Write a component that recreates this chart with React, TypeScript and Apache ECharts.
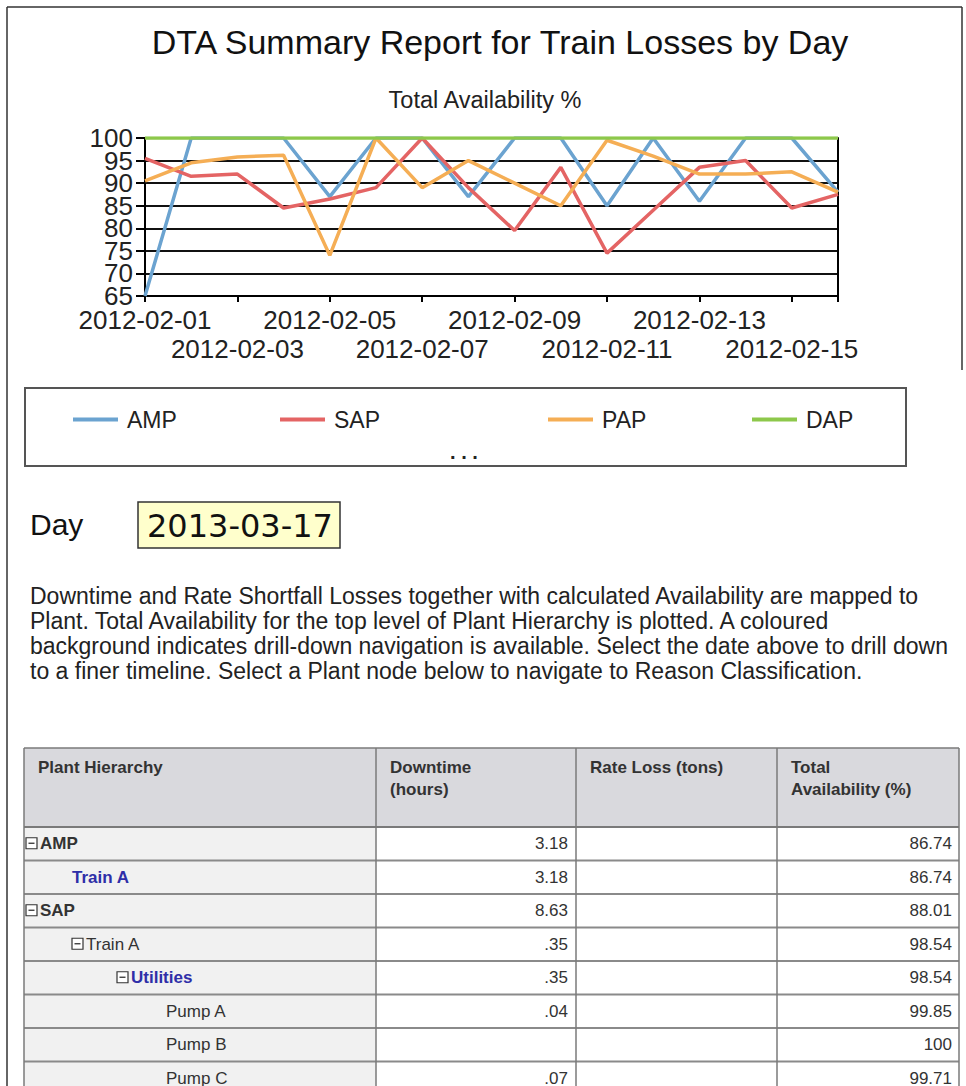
import React, { useEffect, useRef } from 'react';
import * as echarts from 'echarts';

const FONT = '"Liberation Sans", Arial, sans-serif';

// ---- chart data ----
const dates = [
  '2012-02-01', '2012-02-02', '2012-02-03', '2012-02-04', '2012-02-05', '2012-02-06',
  '2012-02-07', '2012-02-08', '2012-02-09', '2012-02-10', '2012-02-11', '2012-02-12',
  '2012-02-13', '2012-02-14', '2012-02-15', '2012-02-16',
];
const ampValues = [65, 100, 100, 100, 87, 100, 100, 87, 100, 100, 85, 100, 86, 100, 100, 88];
const sapValues = [95.5, 91.5, 92, 84.5, 86.5, 89, 100, 89, 79.5, 93.5, 74.5, 84, 93.5, 95, 84.5, 87.5];
const papValues = [90.5, 94.5, 95.8, 96.2, 74, 100, 89, 95, 90, 85, 99.5, 96, 92, 92, 92.5, 88];
const dapValues = [100, 100, 100, 100, 100, 100, 100, 100, 100, 100, 100, 100, 100, 100, 100, 100];
const seriesNames = ['AMP', 'SAP', 'PAP', 'DAP'];
const seriesColors = ['#6BA3D0', '#E46464', '#F5AE55', '#8DC84B'];
const yMin = 65;
const yMax = 100;
const yStep = 5;

// ---- texts ----
const titleText = 'DTA Summary Report for Train Losses by Day';
const subtitleText = 'Total Availability %';
const dayLabel = 'Day';
const dayValue = '2013-03-17';
const paragraphLines = [
  'Downtime and Rate Shortfall Losses together with calculated Availability are mapped to',
  'Plant. Total Availability for the top level of Plant Hierarchy is plotted. A coloured',
  'background indicates drill-down navigation is available. Select the date above to drill down',
  'to a finer timeline. Select a Plant node below to navigate to Reason Classification.',
];

// ---- table data ----
const tableHeaders = ['Plant Hierarchy', 'Downtime\n(hours)', 'Rate Loss (tons)', 'Total\nAvailability (%)'];
const rowNames = ['AMP', 'Train A', 'SAP', 'Train A', 'Utilities', 'Pump A', 'Pump B', 'Pump C'];
const rowLevels = [0, 1, 0, 1, 2, 3, 3, 3];
const rowExpanders = [true, false, true, true, true, false, false, false];
const rowKinds = ['bold', 'link', 'bold', 'plain', 'link', 'plain', 'plain', 'plain'];
const rowDowntime = ['3.18', '3.18', '8.63', '.35', '.35', '.04', '', '.07'];
const rowRateLoss = ['', '', '', '', '', '', '', ''];
const rowAvailability = ['86.74', '86.74', '88.01', '98.54', '98.54', '99.85', '100', '99.71'];

function txt(x: number, y: number, text: string, o: any = {}) {
  const align = o.align || 'left';
  const vAlign = o.vAlign || 'middle';
  return {
    type: 'text',
    x,
    y,
    silent: true,
    style: {
      text,
      fill: o.fill || '#222',
      fontSize: o.size || 17,
      fontFamily: o.family || FONT,
      fontWeight: o.weight || 'normal',
      lineHeight: o.lineHeight,
      textAlign: align,
      align,
      textVerticalAlign: vAlign,
      verticalAlign: vAlign,
    },
  };
}

function line(x1: number, y1: number, x2: number, y2: number, stroke: string, w: number) {
  return { type: 'line', silent: true, shape: { x1, y1, x2, y2 }, style: { stroke, lineWidth: w } };
}

function buildGraphics() {
  const g: any[] = [];
  // outer frame
  g.push(line(7, 7, 962, 7, '#333', 1.5));
  g.push(line(7, 7, 7, 1086, '#333', 1.5));
  g.push(line(962, 7, 962, 370, '#333', 1.5));

  g.push(txt(500, 42, titleText, { size: 34, fill: '#111', align: 'center' }));
  g.push(txt(485, 100, subtitleText, { size: 23.5, fill: '#222', align: 'center' }));

  // legend box
  g.push({ type: 'rect', silent: true, shape: { x: 25, y: 388, width: 881, height: 78 }, style: { fill: 'none', stroke: '#555', lineWidth: 2 } });
  g.push(txt(464, 452, '. . .', { size: 20, weight: 'bold', align: 'center', fill: '#222' }));

  // day selector
  g.push(txt(30, 524, dayLabel, { size: 30, fill: '#111' }));
  g.push({ type: 'rect', silent: true, shape: { x: 138, y: 502, width: 202, height: 46 }, style: { fill: '#FFFFCC', stroke: '#333', lineWidth: 1.5 } });
  g.push(txt(147, 526, dayValue, { size: 32, family: '"DejaVu Sans", Verdana, sans-serif', fill: '#111' }));

  // paragraph
  paragraphLines.forEach((l, i) => g.push(txt(30, 596 + i * 25, l, { size: 23, fill: '#222' })));

  // table
  const colX = [24, 376, 576, 777, 959];
  const headTop = 748;
  const headBottom = 827;
  const rowH = 33.5;
  const tableBottom = 1100;
  g.push({ type: 'rect', silent: true, shape: { x: colX[0], y: headTop, width: colX[4] - colX[0], height: headBottom - headTop }, style: { fill: '#D9D9DD' } });
  g.push({ type: 'rect', silent: true, shape: { x: colX[0], y: headBottom, width: colX[1] - colX[0], height: tableBottom - headBottom }, style: { fill: '#F1F1F1' } });
  g.push({ type: 'rect', silent: true, shape: { x: colX[1], y: headBottom, width: colX[4] - colX[1], height: tableBottom - headBottom }, style: { fill: '#FFFFFF' } });
  g.push(line(colX[0], headTop, colX[4], headTop, '#7a7a7a', 1.5));
  g.push(line(colX[0], headBottom, colX[4], headBottom, '#7a7a7a', 2));
  for (let i = 1; i <= rowNames.length; i++) {
    const y = headBottom + i * rowH;
    g.push(line(colX[0], y, colX[4], y, '#8a8a8a', 2));
  }
  colX.forEach((x) => g.push(line(x, headTop, x, tableBottom, '#7a7a7a', 1.5)));

  tableHeaders.forEach((h, i) => {
    g.push(txt(colX[i] + 14, 756, h, { size: 17, weight: 'bold', fill: '#333', vAlign: 'top', lineHeight: 22 }));
  });

  rowNames.forEach((name, i) => {
    const cy = headBottom + i * rowH + rowH / 2;
    const indent = [26, 72, 117, 166][rowLevels[i]];
    let tx = indent;
    if (rowExpanders[i]) {
      g.push({ type: 'rect', silent: true, shape: { x: indent, y: cy - 6, width: 11, height: 11 }, style: { fill: '#fff', stroke: '#333', lineWidth: 1.2 } });
      g.push(line(indent + 2.5, cy - 0.5, indent + 8.5, cy - 0.5, '#333', 1.3));
      tx = indent + 14;
    }
    const kind = rowKinds[i];
    g.push(txt(tx, cy, name, {
      size: 17,
      weight: kind === 'plain' ? 'normal' : 'bold',
      fill: kind === 'link' ? '#2E2EA8' : '#333',
    }));
    if (rowDowntime[i]) g.push(txt(colX[2] - 8, cy, rowDowntime[i], { size: 17, align: 'right', fill: '#333' }));
    if (rowRateLoss[i]) g.push(txt(colX[3] - 8, cy, rowRateLoss[i], { size: 17, align: 'right', fill: '#333' }));
    if (rowAvailability[i]) g.push(txt(colX[4] - 7, cy, rowAvailability[i], { size: 17, align: 'right', fill: '#333' }));
  });
  return g;
}

const legendLefts = [73, 280, 548, 752];

// plot area geometry
const PLOT_LEFT = 145;
const PLOT_TOP = 138;
const PLOT_W = 693;
const PLOT_H = 158;

function buildOption() {
  const valuesList = [ampValues, sapValues, papValues, dapValues];
  const lastIdx = dates.length - 1;
  const labelBase = { fontSize: 26, color: '#222', fontFamily: FONT, showMinLabel: true, showMaxLabel: true };
  const pxPerUnit = PLOT_H / (yMax - yMin);
  // Two label-only grids share the main plot's vertical scale, so that the
  // alternating y labels (every 10) never collide and get hidden.
  const evenSpan = yMax - (yMin + yStep); // 70..100
  const oddSpan = (yMax - yStep) - yMin; // 65..95
  const yLabelStyle = { fontSize: 26, margin: 12, color: '#222', fontFamily: FONT, showMinLabel: true, showMaxLabel: true };
  const hiddenX = (gridIndex: number) => ({ type: 'category', data: dates, boundaryGap: false, gridIndex, show: false });
  return {
    animation: false,
    backgroundColor: '#fff',
    textStyle: { fontFamily: FONT },
    grid: [
      { left: PLOT_LEFT, top: PLOT_TOP, width: PLOT_W, height: PLOT_H, containLabel: false },
      { left: PLOT_LEFT, top: PLOT_TOP, width: PLOT_W, height: evenSpan * pxPerUnit, containLabel: false },
      { left: PLOT_LEFT, top: PLOT_TOP + yStep * pxPerUnit, width: PLOT_W, height: oddSpan * pxPerUnit, containLabel: false },
    ],
    legend: seriesNames.map((n, i) => ({
      data: [n],
      left: legendLefts[i],
      top: 408,
      icon: 'rect',
      itemWidth: 45,
      itemHeight: 4,
      padding: 0,
      selectedMode: false,
      textStyle: { fontSize: 23, color: '#222', fontFamily: FONT, padding: [0, 0, 0, 4] },
    })),
    xAxis: [
      {
        type: 'category',
        data: dates,
        boundaryGap: false,
        position: 'bottom',
        gridIndex: 0,
        axisLine: { show: true, lineStyle: { color: '#000', width: 2 } },
        axisTick: { show: true, interval: 1, length: 6, lineStyle: { color: '#000', width: 2 } },
        axisLabel: {
          ...labelBase,
          margin: 11,
          interval: (idx: number) => idx % 4 === 0 && idx < lastIdx,
        },
        splitLine: { show: false },
      },
      {
        type: 'category',
        data: dates,
        boundaryGap: false,
        position: 'bottom',
        gridIndex: 0,
        axisLine: { show: false },
        axisTick: { show: false },
        axisLabel: {
          ...labelBase,
          margin: 40,
          interval: (idx: number) => idx % 4 === 2 && idx < lastIdx,
        },
        splitLine: { show: false },
      },
      hiddenX(1),
      hiddenX(2),
    ],
    yAxis: [
      {
        type: 'value',
        gridIndex: 0,
        min: yMin,
        max: yMax,
        interval: yStep,
        axisLine: { show: true, lineStyle: { color: '#000', width: 2 } },
        axisTick: { show: true, length: 9, lineStyle: { color: '#000', width: 2 } },
        axisLabel: { show: false },
        splitLine: { show: true, lineStyle: { color: '#111', width: 2 } },
      },
      {
        type: 'value',
        gridIndex: 0,
        min: yMin,
        max: yMax,
        interval: yStep,
        position: 'right',
        axisLine: { show: true, lineStyle: { color: '#000', width: 2 } },
        axisTick: { show: false },
        axisLabel: { show: false },
        splitLine: { show: false },
      },
      {
        // labels 70, 80, 90, 100
        type: 'value',
        gridIndex: 1,
        min: yMin + yStep,
        max: yMax,
        interval: yStep * 2,
        position: 'left',
        axisLine: { show: false },
        axisTick: { show: false },
        splitLine: { show: false },
        axisLabel: yLabelStyle,
      },
      {
        // labels 65, 75, 85, 95 (axis counted from 0 so ticks start at min)
        type: 'value',
        gridIndex: 2,
        min: 0,
        max: oddSpan,
        interval: yStep * 2,
        position: 'left',
        axisLine: { show: false },
        axisTick: { show: false },
        splitLine: { show: false },
        axisLabel: { ...yLabelStyle, formatter: (v: number) => String(v + yMin) },
      },
    ],
    series: seriesNames.map((n, i) => ({
      name: n,
      type: 'line',
      xAxisIndex: 0,
      yAxisIndex: 0,
      data: valuesList[i],
      symbol: 'none',
      color: seriesColors[i],
      lineStyle: { color: seriesColors[i], width: 3.5 },
      z: 2 + i,
    })),
    graphic: buildGraphics(),
  };
}

export default function App() {
  const ref = useRef<HTMLDivElement>(null);
  useEffect(() => {
    const chart = echarts.init(ref.current as HTMLDivElement, undefined, { renderer: 'svg' });
    chart.setOption(buildOption() as any);
    return () => chart.dispose();
  }, []);
  return (
    <div
      ref={ref}
      style={{ position: 'fixed', left: 0, top: 0, width: 966, height: 1086, background: '#fff' }}
    />
  );
}
